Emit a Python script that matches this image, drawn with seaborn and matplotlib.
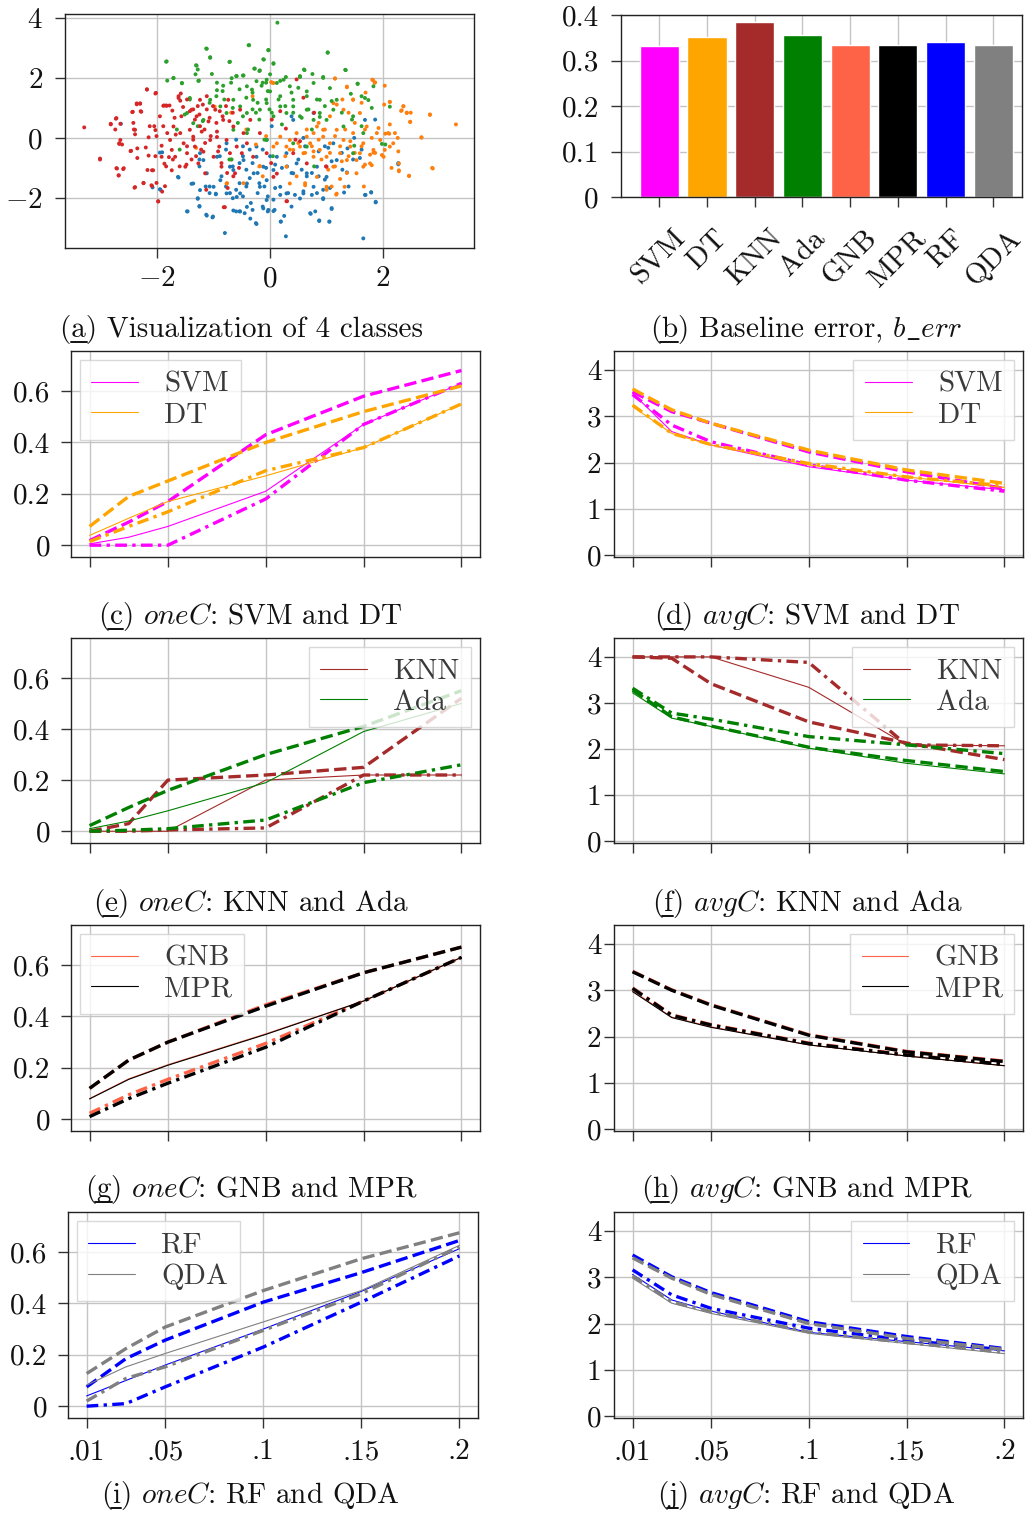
import numpy as np
import pandas as pd
import matplotlib
matplotlib.use("Agg")
import matplotlib.pyplot as plt
import seaborn as sns
from matplotlib.lines import Line2D

# ---------------- data ----------------
red_x = [-3.29,-3.01,-2.82,-2.73,-2.65,-2.67,-2.71,-2.68,-2.60,-2.47,-2.43,-2.36,-2.30,-2.28,-2.39,-2.40,-2.24,-2.18,-2.17,-2.15,-2.09,-2.07,-2.02,-2.01,-1.98,-1.95,-1.89,-1.86,-1.83,-1.92,-1.82,-1.77,-1.74,-1.68,-1.71,-1.62,-1.59,-1.53,-1.50,-1.47,-1.42,-1.39,-1.36,-1.33,-1.30,-1.27,-1.24,-1.21,-1.18,-1.15,-1.12,-1.09,-1.06,-1.00,-0.97,-0.94,-0.90,-0.86,-0.83,-0.80,-0.77,-0.74,-0.71,-0.65,-0.62,-0.59,-0.53,-0.50,-0.47,-0.41,-0.35,-0.30,-0.18,-0.06,0.06,0.30,0.41,0.65,1.00]
red_y = [0.35,-0.72,0.45,0.64,-0.07,-0.20,-1.02,-1.25,-1.04,-0.44,0.87,1.12,1.14,0.87,0.27,-1.66,-1.50,1.61,-1.07,0.02,-1.60,-1.08,1.50,-1.50,-2.11,0.72,1.07,-1.61,1.07,-0.63,0.16,-0.07,-0.40,-0.63,0.38,1.33,0.16,-0.18,-0.96,-0.51,0.27,0.94,0.04,-0.29,0.72,-0.85,1.27,0.21,-0.46,-1.18,1.39,0.55,-0.07,-0.63,0.94,0.21,-0.29,-0.96,0.60,-2.31,-0.07,1.27,-0.51,0.38,-1.18,-0.29,0.94,-0.51,0.16,-0.18,0.60,-0.63,0.16,-0.51,-1.30,-2.11,-0.51,-0.85,-0.96]
red_x_core = [-2.18,-2.03,-2.36,-2.30,-2.29,-2.44,-2.42,-2.72,-2.82,-2.74,-2.65,-2.41,-2.39,-2.67,-2.62,-2.46,-2.35,-2.35,-2.20,-2.15,-2.13,-2.05,-2.03,-2.01,-1.92,-1.89,-1.88,-1.84,-1.78,-1.73,-1.69,-1.67,-1.62,-1.58,-1.59,-1.54,-1.57,-1.47,-1.42,-1.36,-1.33,-1.28,-1.25,-1.24,-1.19,-1.16,-1.12,-1.07,-1.01,-0.95,-0.89,-0.84,-0.78,-0.72,-0.66,-0.94,-1.05,-1.15,-1.22,-1.31,-1.39,-1.48,-1.60,-1.72,-1.84,-1.79,-1.87,-1.74,-1.47,-1.36,-0.92,-0.86,-0.76,-0.65,-0.55,-0.75,-1.13,-0.82,-1.98,-2.39,-2.24,-2.10,-1.91,-2.72,-2.59,-2.68,-3.01,-2.09,-2.03,0.47,0.59,0.78,0.28,0.45,0.53,0.02,0.12,0.99,0.29,0.03,0.18]
red_y_core = [1.62,1.48,1.15,1.15,0.89,0.86,0.50,0.66,0.47,0.28,0.47,0.28,0.12,-0.18,-0.22,-0.43,-0.35,-0.67,-0.32,-0.59,0.39,0.39,0.26,0.06,-0.26,0.39,1.08,1.08,1.08,0.91,0.67,0.11,1.39,1.48,1.24,1.03,0.72,1.28,0.89,0.95,0.61,1.06,0.78,0.39,1.11,0.28,0.95,0.67,1.06,0.50,0.89,0.72,1.06,0.56,0.84,0.03,0.06,-0.17,-0.39,-0.61,-0.72,-0.89,-0.95,-0.72,-0.95,-0.64,-0.86,-1.08,-0.28,-0.06,-0.45,-0.84,-1.17,-1.28,-1.00,-1.67,-1.73,-2.31,-2.12,-1.64,-1.51,-1.58,-1.79,-1.01,-1.01,-1.25,-0.69,-1.08,-0.61,1.95,1.34,0.84,0.31,-0.06,-0.11,-0.84,-1.19,-0.95,-2.11,0.61,0.89]
green_x = [0.13,-1.83,-1.12,-1.06,-1.30,-1.28,-1.03,-0.71,-0.37,-0.03,-0.11,0.06,-0.27,-0.18,1.02,1.33,0.60,-1.82,-1.71,-1.56,-1.42,-1.26,-0.94,-0.83,-0.68,-0.59,-0.47,-0.41,-0.32,-0.24,-0.15,-0.06,0.0,0.12,0.18,0.24,0.35,0.41,0.53,0.65,0.77,0.88,0.94,1.06,1.18,1.55,1.83,1.68,-1.06,-0.88,-0.77,-0.65,-0.53,-0.41,-0.30,-0.18,-0.06,0.06,0.18,0.29,0.41,0.53,0.65,0.77,0.88,1.00,1.12,1.30,1.47,1.65,1.98,-1.18,-1.36,-1.47,-0.65,-0.41,-0.06,0.41,0.65,1.47,-0.68]
green_y = [3.84,2.55,2.97,2.67,2.41,2.28,2.13,2.54,3.09,2.93,2.61,2.47,2.31,2.25,2.85,2.27,2.28,1.91,1.99,1.83,1.33,1.91,1.59,1.74,1.99,2.06,2.08,1.72,1.61,1.89,1.74,1.94,1.55,1.83,1.39,1.94,1.72,1.27,2.03,1.55,1.83,1.27,2.00,1.66,1.27,1.80,1.72,1.33,1.27,1.05,0.83,1.27,1.05,0.83,1.27,0.94,1.16,0.72,1.05,0.83,1.05,0.72,0.94,0.60,0.83,0.60,0.94,0.38,0.72,0.16,-0.20,0.60,0.49,0.83,0.27,0.16,-0.07,-0.18,-0.29,-0.51,-0.72]
green_x_core = [-1.84,-1.71,-1.56,-1.31,-1.32,-1.27,-1.06,-1.13,-0.72,-0.38,-0.28,-0.19,-0.12,-0.07,-0.60,-0.48,-0.94,-0.84,-0.69,-0.54,-0.42,-0.31,-0.22,-0.13,-0.04,-0.01,-0.31,-0.48,-0.66,-0.81,-0.95,-1.07,-1.19,-1.28,-1.42,-1.51,-1.65,-1.60,-0.72,-0.57,-0.39,-0.19,-0.10,0.05,-0.25,-0.07,-0.03,0.06,0.0,0.18,0.28,0.53,0.61,0.75,0.94,1.02,1.34,1.55,1.43,1.62,1.74,1.80,2.12,2.04,0.38,0.50,0.65,0.83,0.97,1.09,1.27,1.45,1.62,0.15,0.27,0.41,0.56,0.74,0.03,0.21,0.68,0.88,0.78,1.49]
green_y_core = [2.54,2.00,1.82,2.42,2.12,1.90,2.69,2.98,2.53,3.09,2.31,2.23,2.62,1.84,2.06,2.08,1.84,1.56,1.84,1.62,1.34,1.51,1.17,1.84,1.56,0.95,0.95,0.72,1.00,1.28,1.39,1.17,0.56,0.39,1.28,0.78,0.28,-0.39,-0.72,0.50,0.28,0.61,-0.06,-0.61,0.84,1.28,2.92,2.49,2.12,1.90,2.03,2.06,2.26,2.13,2.03,2.84,2.26,1.81,1.47,1.39,1.26,1.00,1.04,-0.22,1.51,1.67,1.39,1.28,1.06,1.23,0.84,0.61,0.39,1.28,1.06,0.84,0.67,0.28,0.84,0.45,0.95,0.70,-0.95,-0.26]
orange_x = [3.29,2.83,2.88,2.68,2.46,2.48,2.42,2.33,2.36,2.12,2.03,1.81,1.86,1.15,1.36,2.28,2.28,2.21,2.12,2.01,1.95,1.89,1.83,1.77,1.71,1.65,1.59,1.53,1.47,1.42,1.36,1.30,1.24,1.18,1.12,1.17,1.06,1.00,0.94,0.88,0.83,0.77,0.71,0.65,0.59,0.53,0.47,0.41,0.35,0.29,0.18,0.12,0.06,-0.18,-0.77,0.29,0.35,0.62,0.83,1.00,1.32,1.53,1.65,1.80,1.83,2.03,2.09,2.18,1.47,1.59,1.30,1.12,0.94,0.77,0.06]
orange_y = [0.45,0.77,-1.02,0.01,-1.27,0.53,0.83,0.92,1.05,1.20,1.74,1.94,1.85,1.98,1.69,-0.85,-1.11,0.16,-0.29,-0.63,-0.07,0.16,-0.40,-0.85,0.38,-0.18,-0.51,-1.18,0.16,-0.29,-0.74,-0.07,-0.51,0.27,-0.96,-1.89,-0.18,-0.63,0.04,-0.40,0.38,-0.63,-0.18,0.04,-0.51,-0.29,0.16,-0.40,-0.07,-0.29,0.04,-0.18,-0.29,-0.94,-1.52,-0.96,-1.52,-1.58,-1.30,-1.63,-1.63,-0.74,-0.96,-0.91,-0.49,-0.40,0.16,-0.18,1.27,0.83,0.94,1.16,0.27,0.16,1.83]
orange_x_core = [1.15,1.36,1.82,1.85,1.69,1.47,1.28,1.18,1.62,2.02,2.12,2.36,2.32,2.42,2.49,2.83,2.48,2.12,2.04,2.11,2.26,2.68,2.27,1.98,1.86,1.77,1.68,2.15,2.28,2.46,2.87,1.62,1.50,1.39,1.27,1.15,1.03,1.36,1.24,1.09,1.18,1.66,1.68,1.50,1.33,1.15,0.97,0.86,0.74,0.62,0.50,0.35,0.27,0.47,0.62,1.00,1.39,1.06,0.86,0.65,1.24,1.06,0.91,0.77,1.42,1.80,1.92,0.04,-0.98,-0.69,-0.42,-0.69,-0.76,-0.47,-0.19,-0.13,-0.31,-1.31,0.02,-0.25,-0.07]
orange_y_core = [1.98,1.71,1.93,1.84,1.51,1.28,1.28,1.11,1.17,1.11,1.20,1.06,0.90,0.84,0.84,0.78,0.54,0.45,0.14,0.14,0.0,0.02,-0.45,-0.57,-0.50,-0.56,-0.89,-1.00,-1.08,-1.26,-1.00,-0.28,-0.50,-0.61,-0.78,-0.95,-1.06,-1.17,-1.37,-1.62,-1.86,-1.62,0.28,0.50,0.28,0.06,0.28,-0.06,-0.28,-0.50,-0.17,-0.39,-0.61,-1.28,-1.51,-1.73,0.84,0.72,0.50,0.28,-0.28,-0.50,-0.72,-0.45,-0.11,0.0,0.33,1.84,1.04,0.84,0.28,-0.72,-1.51,-1.51,-0.95,-1.28,1.39,-0.33,1.86,-0.22,0.06]
blue_x = [-2.64,-2.08,-1.95,-1.62,-1.46,-1.28,-1.25,-1.12,-1.02,-0.96,-0.80,-0.65,-0.53,-0.35,-0.24,-0.12,0.06,0.19,0.28,0.72,0.87,1.05,1.09,1.65,1.69,1.79,1.87,2.27,1.68,1.37,1.36,0.94,0.53,0.41,0.29,0.18,0.06,-0.06,-0.18,-0.29,-0.41,-0.53,-0.65,-0.77,-0.88,-1.00,-1.12,-1.24,-1.36,-1.18,-0.94,-0.71,-0.47,-0.24,-0.12,0.12,0.29,0.47,0.65,0.83,1.00,1.18,0.77,0.59,-0.06,-0.41,-0.59,-0.24,-0.77,0.41,0.77,1.12,-1.95,-1.24]
blue_y = [0.47,-1.65,-1.71,-1.32,-2.45,-2.03,-2.27,-2.59,-2.65,-1.88,-3.17,-2.42,-2.45,-2.69,-2.87,-2.35,-2.44,-2.79,-3.28,-2.53,-2.77,-2.79,-2.37,-3.35,-1.90,-1.82,-2.15,-0.88,0.60,-0.35,-1.15,-2.04,-2.02,-1.18,-1.85,-1.63,-1.07,-1.41,-1.63,-1.18,-1.52,-1.85,-1.07,-1.85,-1.41,-1.63,-1.18,-1.74,-1.52,-0.74,-0.63,-0.96,-0.74,-0.63,-0.96,-0.63,-0.51,-0.85,-1.18,-0.96,-1.30,-0.74,-1.63,-1.85,-2.07,-2.30,-1.97,-0.29,-0.18,0.60,0.83,-0.18,-0.49,-0.51]
blue_x_core = [-1.91,-1.63,-1.39,-1.94,-1.47,-1.28,-1.25,-1.13,-1.01,-1.07,-0.96,-1.25,-1.14,-1.07,-0.86,-0.78,-0.71,-0.66,-0.60,-0.54,-0.48,-0.42,-0.36,-0.34,-0.25,-0.22,-0.19,-0.10,-0.04,-0.13,-0.04,-0.60,-0.54,-0.45,-0.31,-0.66,-0.54,-0.42,-0.31,-0.22,-0.07,-0.60,-0.48,-0.36,-0.13,-0.78,-0.89,-0.48,-1.25,-0.06,0.03,0.0,0.09,0.21,0.30,0.38,0.50,0.56,0.65,0.74,0.86,0.97,1.06,0.94,0.83,0.74,0.59,0.44,0.32,0.18,0.09,0.06,-0.03,0.08,0.25,0.19,0.38,0.71,0.80,0.87,1.05,1.09,0.94,1.31,1.39,1.68,1.79,1.87,1.47,1.59,1.62,1.27,1.03,0.97,0.86,0.62,1.09,1.28,2.27,1.86,1.49,0.38,0.59]
blue_y_core = [-0.48,-1.30,-1.53,-1.73,-2.45,-2.01,-2.29,-2.56,-2.62,-1.84,-1.86,-0.95,-1.62,-1.62,-1.28,-1.62,-1.84,-2.01,-1.73,-1.51,-1.95,-1.62,-1.34,-2.17,-2.84,-1.84,-1.51,-1.62,-1.95,-2.29,-2.45,-2.45,-2.45,-2.51,-2.40,-0.95,-0.84,-1.06,-0.84,-1.17,-1.00,-0.06,-0.28,-0.39,-0.39,-0.39,-0.61,-0.61,-0.72,-0.06,0.39,-0.61,-0.89,-1.00,-0.95,-1.17,-0.72,-1.06,-1.28,-1.17,-1.28,-1.39,-1.67,-1.73,-1.84,-1.90,-1.78,-1.90,-1.84,-1.90,-1.67,-2.06,-2.40,-2.40,-2.60,-2.79,-2.29,-2.51,-2.45,-2.75,-2.79,-2.34,-2.01,-1.82,-1.62,-1.90,-1.81,-2.13,-0.72,-0.67,-0.39,-0.50,-0.33,-0.28,-0.45,-0.28,-0.78,-1.06,-0.84,0.61,0.0,0.72,0.0]

clf_names = ["SVM", "DT", "KNN", "Ada", "GNB", "MPR", "RF", "QDA"]
clf_colors = ["#ff00ff", "#ffa500", "#a52a2a", "#008000", "#ff6347", "#000000", "#0000ff", "#808080"]
baseline_err = [0.332, 0.351, 0.385, 0.356, 0.334, 0.334, 0.340, 0.334]

x_levels = [0.01, 0.03, 0.05, 0.1, 0.15, 0.2]
x_tick_vals = [0.01, 0.05, 0.1, 0.15, 0.2]
x_tick_labels = [".01", ".05", ".1", ".15", ".2"]

svm_onec_solid = [0.005, 0.031, 0.073, 0.21, 0.47, 0.63]
svm_onec_dashed = [0.018, 0.09, 0.17, 0.43, 0.58, 0.68]
svm_onec_dashdot = [0.0, 0.0, 0.0, 0.18, 0.47, 0.63]
dt_onec_solid = [0.038, 0.105, 0.17, 0.27, 0.38, 0.55]
dt_onec_dashed = [0.073, 0.19, 0.25, 0.40, 0.52, 0.62]
dt_onec_dashdot = [0.014, 0.073, 0.13, 0.29, 0.38, 0.55]

svm_avgc_solid = [3.50, 2.67, 2.38, 1.91, 1.62, 1.41]
svm_avgc_dashed = [3.53, 3.10, 2.85, 2.23, 1.80, 1.44]
svm_avgc_dashdot = [3.47, 2.81, 2.45, 1.95, 1.62, 1.38]
dt_avgc_solid = [3.21, 2.63, 2.38, 1.95, 1.69, 1.46]
dt_avgc_dashed = [3.59, 3.14, 2.85, 2.27, 1.84, 1.55]
dt_avgc_dashdot = [3.24, 2.63, 2.39, 1.98, 1.69, 1.50]

knn_onec_solid = [0.0, 0.0, 0.0, 0.20, 0.22, 0.22]
knn_onec_dashed = [0.0, 0.03, 0.20, 0.22, 0.25, 0.52]
knn_onec_dashdot = [0.0, 0.0, 0.005, 0.013, 0.22, 0.22]
ada_onec_solid = [0.01, 0.04, 0.08, 0.19, 0.39, 0.50]
ada_onec_dashed = [0.022, 0.093, 0.16, 0.30, 0.41, 0.55]
ada_onec_dashdot = [0.0, 0.004, 0.01, 0.044, 0.19, 0.26]

knn_avgc_solid = [4.0, 4.0, 4.0, 3.34, 2.09, 2.07]
knn_avgc_dashed = [4.0, 3.97, 3.42, 2.59, 2.13, 1.77]
knn_avgc_dashdot = [4.0, 4.0, 4.0, 3.88, 2.09, 2.07]
ada_avgc_solid = [3.22, 2.67, 2.49, 2.02, 1.69, 1.46]
ada_avgc_dashed = [3.28, 2.70, 2.50, 2.04, 1.75, 1.51]
ada_avgc_dashdot = [3.32, 2.78, 2.65, 2.27, 2.09, 1.90]

gnb_onec_solid = [0.08, 0.157, 0.212, 0.332, 0.46, 0.63]
gnb_onec_dashed = [0.12, 0.23, 0.30, 0.445, 0.57, 0.67]
gnb_onec_dashdot = [0.023, 0.095, 0.155, 0.295, 0.46, 0.63]
mpr_onec_solid = [0.079, 0.155, 0.21, 0.33, 0.46, 0.63]
mpr_onec_dashed = [0.12, 0.23, 0.30, 0.44, 0.57, 0.67]
mpr_onec_dashdot = [0.01, 0.08, 0.14, 0.28, 0.46, 0.63]

gnb_avgc_solid = [2.99, 2.42, 2.21, 1.82, 1.58, 1.37]
gnb_avgc_dashed = [3.41, 3.01, 2.69, 2.04, 1.68, 1.47]
gnb_avgc_dashdot = [3.05, 2.47, 2.26, 1.86, 1.61, 1.40]
mpr_avgc_solid = [2.97, 2.41, 2.20, 1.82, 1.58, 1.37]
mpr_avgc_dashed = [3.40, 3.00, 2.68, 2.03, 1.67, 1.46]
mpr_avgc_dashdot = [3.04, 2.46, 2.25, 1.85, 1.60, 1.40]

rf_onec_solid = [0.04, 0.10, 0.16, 0.30, 0.447, 0.613]
rf_onec_dashed = [0.075, 0.185, 0.257, 0.405, 0.52, 0.645]
rf_onec_dashdot = [0.0, 0.01, 0.075, 0.23, 0.405, 0.585]
qda_onec_solid = [0.082, 0.153, 0.205, 0.328, 0.45, 0.626]
qda_onec_dashed = [0.127, 0.224, 0.308, 0.45, 0.574, 0.675]
qda_onec_dashdot = [0.02, 0.108, 0.153, 0.295, 0.438, 0.62]

rf_avgc_solid = [3.06, 2.51, 2.27, 1.81, 1.61, 1.41]
rf_avgc_dashed = [3.48, 3.01, 2.67, 2.04, 1.72, 1.46]
rf_avgc_dashdot = [3.16, 2.62, 2.33, 1.90, 1.64, 1.43]
qda_avgc_solid = [2.98, 2.44, 2.22, 1.79, 1.57, 1.35]
qda_avgc_dashed = [3.42, 2.98, 2.63, 2.00, 1.68, 1.44]
qda_avgc_dashdot = [3.03, 2.47, 2.26, 1.82, 1.59, 1.38]

# ---------------- style ----------------
sns.set_style("whitegrid")
plt.rcParams.update({
    "font.family": "cmr10",
    "mathtext.fontset": "cm",
    "axes.formatter.use_mathtext": True,
    "axes.unicode_minus": False,
    "axes.edgecolor": "#222222",
    "axes.linewidth": 1.0,
    "grid.color": "#c4c4c4",
    "grid.linewidth": 1.0,
    "xtick.bottom": True,
    "ytick.left": True,
    "xtick.color": "#333333",
    "ytick.color": "#333333",
    "xtick.labelcolor": "#111111",
    "ytick.labelcolor": "#111111",
    "xtick.major.size": 7,
    "ytick.major.size": 7,
    "xtick.major.width": 1.0,
    "ytick.major.width": 1.0,
    "xtick.labelsize": 21,
    "ytick.labelsize": 21,
    "text.color": "#111111",
})

W, H = 1029, 1515
fig = plt.figure(figsize=(W / 100, H / 100), dpi=100)


def add_ax(l, t, r, b):
    return fig.add_axes([l / W, 1 - b / H, (r - l) / W, (b - t) / H])


# ---------------- (a) scatter ----------------
ax = add_ax(65, 14, 474, 248)
bx = blue_x + blue_x_core
by = blue_y + blue_y_core
ox = orange_x + orange_x_core
oy = orange_y + orange_y_core
gx = green_x + green_x_core
gy = green_y + green_y_core
rx = red_x + red_x_core
ry = red_y + red_y_core
df_sc = pd.DataFrame({
    "x": bx + ox + gx + rx,
    "y": by + oy + gy + ry,
    "cls": ["c0"] * len(bx) + ["c1"] * len(ox) + ["c2"] * len(gx) + ["c3"] * len(rx),
})
sns.scatterplot(data=df_sc, x="x", y="y", hue="cls",
                palette=["#1f77b4", "#ff7f0e", "#2ca02c", "#d62728"],
                s=8, linewidth=0, legend=False, ax=ax)
ax.set_xlim(-3.63, 3.61)
ax.set_ylim(-3.67, 4.13)
ax.set_xticks([-2, 0, 2])
ax.set_yticks([-2, 0, 2, 4])
ax.set_xlabel("")
ax.set_ylabel("")
ax.tick_params(axis="y", pad=9)
ax.tick_params(axis="x", pad=6)

# ---------------- (b) bars ----------------
ax = add_ax(621, 15, 1022, 197)
sns.barplot(x=clf_names, y=baseline_err, hue=clf_names, palette=clf_colors,
            saturation=1, width=0.82, legend=False, ax=ax)
ax.set_xlim(-0.8, 7.6)
ax.set_ylim(0, 0.4)
ax.set_yticks([0, 0.1, 0.2, 0.3, 0.4])
ax.set_yticklabels(["0", "0.1", "0.2", "0.3", "0.4"])
ax.grid(True, axis="both")
ax.set_axisbelow(True)
for lab in ax.get_xticklabels():
    lab.set_rotation(45)
    lab.set_ha("center")
    lab.set_va("top")
ax.tick_params(axis="x", pad=13)
ax.tick_params(axis="y", pad=9)
ax.set_xlabel("")
ax.set_ylabel("")

# ---------------- line panels ----------------
DASHDOT = (0, (3.5, 1.6, 1.0, 1.6))
THIN, THICK = 0.8, 2.4

panels = [
    ((71, 351, 480, 557), "onec", "SVM", "DT",
     (svm_onec_solid, svm_onec_dashed, svm_onec_dashdot),
     (dt_onec_solid, dt_onec_dashed, dt_onec_dashdot), "upper left", False),
    ((614, 351, 1023, 557), "avgc", "SVM", "DT",
     (svm_avgc_solid, svm_avgc_dashed, svm_avgc_dashdot),
     (dt_avgc_solid, dt_avgc_dashed, dt_avgc_dashdot), "upper right", False),
    ((71, 638, 480, 843), "onec", "KNN", "Ada",
     (knn_onec_solid, knn_onec_dashed, knn_onec_dashdot),
     (ada_onec_solid, ada_onec_dashed, ada_onec_dashdot), "upper right", False),
    ((614, 638, 1023, 843), "avgc", "KNN", "Ada",
     (knn_avgc_solid, knn_avgc_dashed, knn_avgc_dashdot),
     (ada_avgc_solid, ada_avgc_dashed, ada_avgc_dashdot), "upper right", False),
    ((71, 925, 480, 1131), "onec", "GNB", "MPR",
     (gnb_onec_solid, gnb_onec_dashed, gnb_onec_dashdot),
     (mpr_onec_solid, mpr_onec_dashed, mpr_onec_dashdot), "upper left", False),
    ((614, 925, 1023, 1131), "avgc", "GNB", "MPR",
     (gnb_avgc_solid, gnb_avgc_dashed, gnb_avgc_dashdot),
     (mpr_avgc_solid, mpr_avgc_dashed, mpr_avgc_dashdot), "upper right", False),
    ((68, 1212, 478, 1418), "onec", "RF", "QDA",
     (rf_onec_solid, rf_onec_dashed, rf_onec_dashdot),
     (qda_onec_solid, qda_onec_dashed, qda_onec_dashdot), "upper left", True),
    ((614, 1212, 1023, 1418), "avgc", "RF", "QDA",
     (rf_avgc_solid, rf_avgc_dashed, rf_avgc_dashdot),
     (qda_avgc_solid, qda_avgc_dashed, qda_avgc_dashdot), "upper right", True),
]

color_of = dict(zip(clf_names, clf_colors))

for rect, metric, c1, c2, s1, s2, loc, bottom in panels:
    ax = add_ax(*rect)
    for clf, series in ((c1, s1), (c2, s2)):
        col = color_of[clf]
        for vals, ls, lw in zip(series, ["-", "--", DASHDOT], [THIN, THICK, THICK]):
            sns.lineplot(x=x_levels, y=vals, ax=ax, color=col, linewidth=lw,
                         linestyle=ls, errorbar=None, legend=False)
    ax.set_xlim(0.0005, 0.2095)
    ax.set_xticks(x_tick_vals)
    if bottom:
        ax.set_xticklabels(x_tick_labels)
        ax.tick_params(axis="x", pad=8)
    else:
        ax.set_xticklabels([""] * len(x_tick_vals))
    if metric == "onec":
        ax.set_ylim(-0.046, 0.756)
        ax.set_yticks([0, 0.2, 0.4, 0.6])
        ax.set_yticklabels(["0", "0.2", "0.4", "0.6"])
        ax.tick_params(axis="y", pad=8)
    else:
        ax.set_ylim(-0.04, 4.41)
        ax.set_yticks([0, 1, 2, 3, 4])
        ax.set_yticklabels(["0", "1", "2", "3", "4"])
        ax.tick_params(axis="y", pad=2)
    ax.set_xlabel("")
    ax.set_ylabel("")
    handles = [Line2D([], [], color=color_of[c1], lw=THIN),
               Line2D([], [], color=color_of[c2], lw=THIN)]
    leg = ax.legend(handles, [c1, c2], loc=loc, fontsize=21, frameon=True,
                    fancybox=False, framealpha=0.8, edgecolor="#d0d0d0",
                    handlelength=1.6, handletextpad=0.9, labelspacing=0.15,
                    borderpad=0.4, borderaxespad=0.3)
    for t in leg.get_texts():
        t.set_color("#3a3a3a")

# ---------------- captions ----------------
CAP_FS = 21
captions = [
    (242, 329, "a", "(a) Visualization of 4 classes"),
    (806, 329, "b", r"(b) Baseline error, $b\_err$"),
    (250, 616, "c", r"(c) $oneC$: SVM and DT"),
    (807, 616, "d", r"(d) $avgC$: SVM and DT"),
    (251, 903, "e", r"(e) $oneC$: KNN and Ada"),
    (807, 903, "f", r"(f) $avgC$: KNN and Ada"),
    (251, 1189, "g", r"(g) $oneC$: GNB and MPR"),
    (807, 1189, "h", r"(h) $avgC$: GNB and MPR"),
    (250, 1495, "i", r"(i) $oneC$: RF and QDA"),
    (806, 1495, "j", r"(j) $avgC$: RF and QDA"),
]
cap_texts = []
for cx, cy, letter, txt in captions:
    base = cy + 8
    t = fig.text(cx / W, 1 - base / H, txt, ha="center", va="baseline", fontsize=CAP_FS)
    cap_texts.append((t, letter, base))

# underline the sub-figure letter, as in the subcaption style
fig.canvas.draw()
rend = fig.canvas.get_renderer()
for t, letter, base in cap_texts:
    bb = t.get_window_extent(rend)
    tmp1 = fig.text(0, 0, "(", fontsize=CAP_FS)
    tmp2 = fig.text(0, 0, "(" + letter, fontsize=CAP_FS)
    w1 = tmp1.get_window_extent(rend).width
    w2 = tmp2.get_window_extent(rend).width
    tmp1.remove()
    tmp2.remove()
    x0 = bb.x0 + w1 - 1
    x1 = bb.x0 + w2 + 1
    yb = (H - base) - 5
    fig.add_artist(Line2D([x0 / W, x1 / W], [yb / H, yb / H], color="#111111",
                          lw=1.4, transform=fig.transFigure))

fig.savefig("out.png", dpi=100)
